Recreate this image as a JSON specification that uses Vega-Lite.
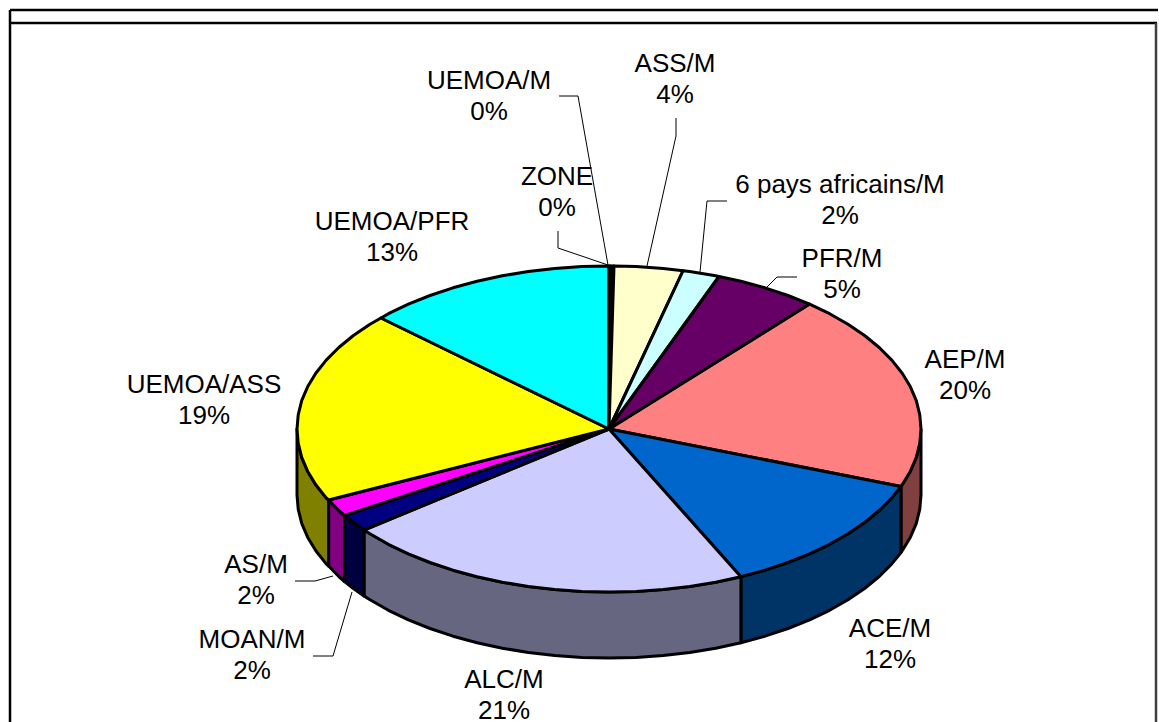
{"$schema":"https://vega.github.io/schema/vega-lite/v6.json","width":1159,"height":722,"padding":0,"autosize":"none","background":"white","config":{"view":{"stroke":null}},
"datasets":{
"faces":[
{"part":"AEP/M side","i":0,"x":921,"y":429},{"part":"AEP/M side","i":1,"x":919.8,"y":443.2},{"part":"AEP/M side","i":2,"x":916.3,"y":457.3},{"part":"AEP/M side","i":3,"x":910.4,"y":471.2},{"part":"AEP/M side","i":4,"x":902.2,"y":484.7},{"part":"AEP/M side","i":5,"x":901,"y":486.5},{"part":"AEP/M side","i":6,"x":901,"y":552.5},{"part":"AEP/M side","i":7,"x":902.2,"y":550.7},{"part":"AEP/M side","i":8,"x":910.4,"y":537.2},{"part":"AEP/M side","i":9,"x":916.3,"y":523.3},{"part":"AEP/M side","i":10,"x":919.8,"y":509.2},{"part":"AEP/M side","i":11,"x":921,"y":495},{"part":"AEP/M side","i":12,"x":921,"y":429},
{"part":"ACE/M side","i":0,"x":901,"y":486.5},{"part":"ACE/M side","i":1,"x":891.8,"y":497.9},{"part":"ACE/M side","i":2,"x":879.2,"y":510.5},{"part":"ACE/M side","i":3,"x":864.6,"y":522.5},{"part":"ACE/M side","i":4,"x":848,"y":533.8},{"part":"ACE/M side","i":5,"x":829.6,"y":544.3},{"part":"ACE/M side","i":6,"x":809.6,"y":553.9},{"part":"ACE/M side","i":7,"x":788,"y":562.5},{"part":"ACE/M side","i":8,"x":765,"y":570.2},{"part":"ACE/M side","i":9,"x":740.9,"y":576.7},{"part":"ACE/M side","i":10,"x":740.9,"y":642.7},{"part":"ACE/M side","i":11,"x":765,"y":636.2},{"part":"ACE/M side","i":12,"x":788,"y":628.5},{"part":"ACE/M side","i":13,"x":809.6,"y":619.9},{"part":"ACE/M side","i":14,"x":829.6,"y":610.3},{"part":"ACE/M side","i":15,"x":848,"y":599.8},{"part":"ACE/M side","i":16,"x":864.6,"y":588.5},{"part":"ACE/M side","i":17,"x":879.2,"y":576.5},{"part":"ACE/M side","i":18,"x":891.8,"y":563.9},{"part":"ACE/M side","i":19,"x":901,"y":552.5},{"part":"ACE/M side","i":20,"x":901,"y":486.5},
{"part":"ALC/M side","i":0,"x":740.9,"y":576.7},{"part":"ALC/M side","i":1,"x":715.7,"y":582.2},{"part":"ALC/M side","i":2,"x":689.7,"y":586.4},{"part":"ALC/M side","i":3,"x":663.2,"y":589.5},{"part":"ALC/M side","i":4,"x":636.2,"y":591.4},{"part":"ALC/M side","i":5,"x":609,"y":592},{"part":"ALC/M side","i":6,"x":581.8,"y":591.4},{"part":"ALC/M side","i":7,"x":554.8,"y":589.5},{"part":"ALC/M side","i":8,"x":528.3,"y":586.4},{"part":"ALC/M side","i":9,"x":502.3,"y":582.2},{"part":"ALC/M side","i":10,"x":477.1,"y":576.7},{"part":"ALC/M side","i":11,"x":453,"y":570.2},{"part":"ALC/M side","i":12,"x":430,"y":562.5},{"part":"ALC/M side","i":13,"x":408.4,"y":553.9},{"part":"ALC/M side","i":14,"x":388.4,"y":544.3},{"part":"ALC/M side","i":15,"x":370,"y":533.8},{"part":"ALC/M side","i":16,"x":364,"y":530},{"part":"ALC/M side","i":17,"x":364,"y":596},{"part":"ALC/M side","i":18,"x":370,"y":599.8},{"part":"ALC/M side","i":19,"x":388.4,"y":610.3},{"part":"ALC/M side","i":20,"x":408.4,"y":619.9},{"part":"ALC/M side","i":21,"x":430,"y":628.5},{"part":"ALC/M side","i":22,"x":453,"y":636.2},{"part":"ALC/M side","i":23,"x":477.1,"y":642.7},{"part":"ALC/M side","i":24,"x":502.3,"y":648.2},{"part":"ALC/M side","i":25,"x":528.3,"y":652.4},{"part":"ALC/M side","i":26,"x":554.8,"y":655.5},{"part":"ALC/M side","i":27,"x":581.8,"y":657.4},{"part":"ALC/M side","i":28,"x":609,"y":658},{"part":"ALC/M side","i":29,"x":636.2,"y":657.4},{"part":"ALC/M side","i":30,"x":663.2,"y":655.5},{"part":"ALC/M side","i":31,"x":689.7,"y":652.4},{"part":"ALC/M side","i":32,"x":715.7,"y":648.2},{"part":"ALC/M side","i":33,"x":740.9,"y":642.7},{"part":"ALC/M side","i":34,"x":740.9,"y":576.7},
{"part":"MOAN/M side","i":0,"x":364,"y":530},{"part":"MOAN/M side","i":1,"x":353.4,"y":522.5},{"part":"MOAN/M side","i":2,"x":344.5,"y":515.5},{"part":"MOAN/M side","i":3,"x":344.5,"y":581.5},{"part":"MOAN/M side","i":4,"x":353.4,"y":588.5},{"part":"MOAN/M side","i":5,"x":364,"y":596},{"part":"MOAN/M side","i":6,"x":364,"y":530},
{"part":"AS/M side","i":0,"x":344.5,"y":515.5},{"part":"AS/M side","i":1,"x":338.8,"y":510.5},{"part":"AS/M side","i":2,"x":328.6,"y":500},{"part":"AS/M side","i":3,"x":328.6,"y":566},{"part":"AS/M side","i":4,"x":338.8,"y":576.5},{"part":"AS/M side","i":5,"x":344.5,"y":581.5},{"part":"AS/M side","i":6,"x":344.5,"y":515.5},
{"part":"UEMOA/ASS side","i":0,"x":328.6,"y":500},{"part":"UEMOA/ASS side","i":1,"x":326.2,"y":497.9},{"part":"UEMOA/ASS side","i":2,"x":315.8,"y":484.7},{"part":"UEMOA/ASS side","i":3,"x":307.6,"y":471.2},{"part":"UEMOA/ASS side","i":4,"x":301.7,"y":457.3},{"part":"UEMOA/ASS side","i":5,"x":298.2,"y":443.2},{"part":"UEMOA/ASS side","i":6,"x":297,"y":429},{"part":"UEMOA/ASS side","i":7,"x":297,"y":495},{"part":"UEMOA/ASS side","i":8,"x":298.2,"y":509.2},{"part":"UEMOA/ASS side","i":9,"x":301.7,"y":523.3},{"part":"UEMOA/ASS side","i":10,"x":307.6,"y":537.2},{"part":"UEMOA/ASS side","i":11,"x":315.8,"y":550.7},{"part":"UEMOA/ASS side","i":12,"x":326.2,"y":563.9},{"part":"UEMOA/ASS side","i":13,"x":328.6,"y":566},{"part":"UEMOA/ASS side","i":14,"x":328.6,"y":500},
{"part":"AEP/M top","i":0,"x":609,"y":429},{"part":"AEP/M top","i":1,"x":809.6,"y":304.1},{"part":"AEP/M top","i":2,"x":829.6,"y":313.7},{"part":"AEP/M top","i":3,"x":848,"y":324.2},{"part":"AEP/M top","i":4,"x":864.6,"y":335.5},{"part":"AEP/M top","i":5,"x":879.2,"y":347.5},{"part":"AEP/M top","i":6,"x":891.8,"y":360.1},{"part":"AEP/M top","i":7,"x":902.2,"y":373.3},{"part":"AEP/M top","i":8,"x":910.4,"y":386.8},{"part":"AEP/M top","i":9,"x":916.3,"y":400.7},{"part":"AEP/M top","i":10,"x":919.8,"y":414.8},{"part":"AEP/M top","i":11,"x":921,"y":429},{"part":"AEP/M top","i":12,"x":919.8,"y":443.2},{"part":"AEP/M top","i":13,"x":916.3,"y":457.3},{"part":"AEP/M top","i":14,"x":910.4,"y":471.2},{"part":"AEP/M top","i":15,"x":902.2,"y":484.7},{"part":"AEP/M top","i":16,"x":901,"y":486.5},{"part":"AEP/M top","i":17,"x":609,"y":429},
{"part":"ACE/M top","i":0,"x":609,"y":429},{"part":"ACE/M top","i":1,"x":901,"y":486.5},{"part":"ACE/M top","i":2,"x":891.8,"y":497.9},{"part":"ACE/M top","i":3,"x":879.2,"y":510.5},{"part":"ACE/M top","i":4,"x":864.6,"y":522.5},{"part":"ACE/M top","i":5,"x":848,"y":533.8},{"part":"ACE/M top","i":6,"x":829.6,"y":544.3},{"part":"ACE/M top","i":7,"x":809.6,"y":553.9},{"part":"ACE/M top","i":8,"x":788,"y":562.5},{"part":"ACE/M top","i":9,"x":765,"y":570.2},{"part":"ACE/M top","i":10,"x":740.9,"y":576.7},{"part":"ACE/M top","i":11,"x":609,"y":429},
{"part":"ALC/M top","i":0,"x":609,"y":429},{"part":"ALC/M top","i":1,"x":740.9,"y":576.7},{"part":"ALC/M top","i":2,"x":715.7,"y":582.2},{"part":"ALC/M top","i":3,"x":689.7,"y":586.4},{"part":"ALC/M top","i":4,"x":663.2,"y":589.5},{"part":"ALC/M top","i":5,"x":636.2,"y":591.4},{"part":"ALC/M top","i":6,"x":609,"y":592},{"part":"ALC/M top","i":7,"x":581.8,"y":591.4},{"part":"ALC/M top","i":8,"x":554.8,"y":589.5},{"part":"ALC/M top","i":9,"x":528.3,"y":586.4},{"part":"ALC/M top","i":10,"x":502.3,"y":582.2},{"part":"ALC/M top","i":11,"x":477.1,"y":576.7},{"part":"ALC/M top","i":12,"x":453,"y":570.2},{"part":"ALC/M top","i":13,"x":430,"y":562.5},{"part":"ALC/M top","i":14,"x":408.4,"y":553.9},{"part":"ALC/M top","i":15,"x":388.4,"y":544.3},{"part":"ALC/M top","i":16,"x":370,"y":533.8},{"part":"ALC/M top","i":17,"x":364,"y":530},{"part":"ALC/M top","i":18,"x":609,"y":429},
{"part":"MOAN/M top","i":0,"x":609,"y":429},{"part":"MOAN/M top","i":1,"x":364,"y":530},{"part":"MOAN/M top","i":2,"x":353.4,"y":522.5},{"part":"MOAN/M top","i":3,"x":344.5,"y":515.5},{"part":"MOAN/M top","i":4,"x":609,"y":429},
{"part":"AS/M top","i":0,"x":609,"y":429},{"part":"AS/M top","i":1,"x":344.5,"y":515.5},{"part":"AS/M top","i":2,"x":338.8,"y":510.5},{"part":"AS/M top","i":3,"x":328.6,"y":500},{"part":"AS/M top","i":4,"x":609,"y":429},
{"part":"UEMOA/ASS top","i":0,"x":609,"y":429},{"part":"UEMOA/ASS top","i":1,"x":328.6,"y":500},{"part":"UEMOA/ASS top","i":2,"x":326.2,"y":497.9},{"part":"UEMOA/ASS top","i":3,"x":315.8,"y":484.7},{"part":"UEMOA/ASS top","i":4,"x":307.6,"y":471.2},{"part":"UEMOA/ASS top","i":5,"x":301.7,"y":457.3},{"part":"UEMOA/ASS top","i":6,"x":298.2,"y":443.2},{"part":"UEMOA/ASS top","i":7,"x":297,"y":429},{"part":"UEMOA/ASS top","i":8,"x":298.2,"y":414.8},{"part":"UEMOA/ASS top","i":9,"x":301.7,"y":400.7},{"part":"UEMOA/ASS top","i":10,"x":307.6,"y":386.8},{"part":"UEMOA/ASS top","i":11,"x":315.8,"y":373.3},{"part":"UEMOA/ASS top","i":12,"x":326.2,"y":360.1},{"part":"UEMOA/ASS top","i":13,"x":338.8,"y":347.5},{"part":"UEMOA/ASS top","i":14,"x":353.4,"y":335.5},{"part":"UEMOA/ASS top","i":15,"x":370,"y":324.2},{"part":"UEMOA/ASS top","i":16,"x":381,"y":318},{"part":"UEMOA/ASS top","i":17,"x":609,"y":429},
{"part":"UEMOA/PFR top","i":0,"x":609,"y":429},{"part":"UEMOA/PFR top","i":1,"x":381,"y":318},{"part":"UEMOA/PFR top","i":2,"x":388.4,"y":313.7},{"part":"UEMOA/PFR top","i":3,"x":408.4,"y":304.1},{"part":"UEMOA/PFR top","i":4,"x":430,"y":295.5},{"part":"UEMOA/PFR top","i":5,"x":453,"y":287.8},{"part":"UEMOA/PFR top","i":6,"x":477.1,"y":281.3},{"part":"UEMOA/PFR top","i":7,"x":502.3,"y":275.8},{"part":"UEMOA/PFR top","i":8,"x":528.3,"y":271.6},{"part":"UEMOA/PFR top","i":9,"x":554.8,"y":268.5},{"part":"UEMOA/PFR top","i":10,"x":581.8,"y":266.6},{"part":"UEMOA/PFR top","i":11,"x":609,"y":266},{"part":"UEMOA/PFR top","i":12,"x":609,"y":429},
{"part":"ZONE top","i":0,"x":609,"y":429},{"part":"ZONE top","i":1,"x":609,"y":266},{"part":"ZONE top","i":2,"x":611,"y":266},{"part":"ZONE top","i":3,"x":609,"y":429},
{"part":"UEMOA/M top","i":0,"x":609,"y":429},{"part":"UEMOA/M top","i":1,"x":611,"y":266},{"part":"UEMOA/M top","i":2,"x":614,"y":266},{"part":"UEMOA/M top","i":3,"x":609,"y":429},
{"part":"ASS/M top","i":0,"x":609,"y":429},{"part":"ASS/M top","i":1,"x":614,"y":266},{"part":"ASS/M top","i":2,"x":636.2,"y":266.6},{"part":"ASS/M top","i":3,"x":663.2,"y":268.5},{"part":"ASS/M top","i":4,"x":683,"y":270.8},{"part":"ASS/M top","i":5,"x":609,"y":429},
{"part":"6 pays africains/M top","i":0,"x":609,"y":429},{"part":"6 pays africains/M top","i":1,"x":683,"y":270.8},{"part":"6 pays africains/M top","i":2,"x":689.7,"y":271.6},{"part":"6 pays africains/M top","i":3,"x":715.7,"y":275.8},{"part":"6 pays africains/M top","i":4,"x":719,"y":276.5},{"part":"6 pays africains/M top","i":5,"x":609,"y":429},
{"part":"PFR/M top","i":0,"x":609,"y":429},{"part":"PFR/M top","i":1,"x":719,"y":276.5},{"part":"PFR/M top","i":2,"x":740.9,"y":281.3},{"part":"PFR/M top","i":3,"x":765,"y":287.8},{"part":"PFR/M top","i":4,"x":788,"y":295.5},{"part":"PFR/M top","i":5,"x":809.6,"y":304.1},{"part":"PFR/M top","i":6,"x":609,"y":429}
],
"leaders":[
{"name":"ZONE","i":0,"x":558,"y":231},{"name":"ZONE","i":1,"x":558,"y":248},{"name":"ZONE","i":2,"x":608,"y":265},
{"name":"UEMOA/M","i":0,"x":559,"y":96},{"name":"UEMOA/M","i":1,"x":578,"y":96},{"name":"UEMOA/M","i":2,"x":608,"y":265},
{"name":"ASS/M","i":0,"x":676,"y":118},{"name":"ASS/M","i":1,"x":676,"y":136},{"name":"ASS/M","i":2,"x":647,"y":266},
{"name":"6 pays","i":0,"x":727,"y":201},{"name":"6 pays","i":1,"x":707,"y":201},{"name":"6 pays","i":2,"x":700,"y":272},
{"name":"PFR/M","i":0,"x":797,"y":277},{"name":"PFR/M","i":1,"x":777,"y":277},{"name":"PFR/M","i":2,"x":767,"y":287},
{"name":"AS/M","i":0,"x":295,"y":581},{"name":"AS/M","i":1,"x":315,"y":581},{"name":"AS/M","i":2,"x":333,"y":576},
{"name":"MOAN/M","i":0,"x":313,"y":656},{"name":"MOAN/M","i":1,"x":333,"y":656},{"name":"MOAN/M","i":2,"x":352,"y":592}
],
"frame":[
{"edge":"top","i":0,"x":10,"y":10},{"edge":"top","i":1,"x":1158,"y":10},
{"edge":"left","i":0,"x":10,"y":10},{"edge":"left","i":1,"x":10,"y":722},
{"edge":"inner","i":0,"x":10,"y":23},{"edge":"inner","i":1,"x":1157,"y":23},
{"edge":"right","i":0,"x":1156,"y":23},{"edge":"right","i":1,"x":1156,"y":722}
],
"labels":[
{"label":"UEMOA/M\n0%","x":489,"y":81},
{"label":"ASS/M\n4%","x":675,"y":64},
{"label":"ZONE\n0%","x":557,"y":177},
{"label":"6 pays africains/M\n2%","x":840,"y":185},
{"label":"UEMOA/PFR\n13%","x":392,"y":222},
{"label":"PFR/M\n5%","x":842,"y":259},
{"label":"AEP/M\n20%","x":965,"y":360},
{"label":"UEMOA/ASS\n19%","x":204,"y":385},
{"label":"AS/M\n2%","x":256,"y":565},
{"label":"ACE/M\n12%","x":890,"y":629},
{"label":"MOAN/M\n2%","x":252,"y":640},
{"label":"ALC/M\n21%","x":504,"y":680}
]},
"layer":[
{"data":{"name":"frame"},"mark":{"type":"line"},"encoding":{
"x":{"field":"x","type":"quantitative","scale":{"domain":[0,1159],"nice":false,"zero":false},"axis":null},
"y":{"field":"y","type":"quantitative","scale":{"domain":[722,0],"nice":false,"zero":false},"axis":null},
"order":{"field":"i"},
"color":{"field":"edge","type":"nominal","legend":null,"scale":{"domain":["top","left","inner","right"],"range":["#000000","#000000","#000000","#404040"]}},
"strokeWidth":{"field":"edge","type":"nominal","legend":null,"scale":{"domain":["top","left","inner","right"],"range":[2.5,2.5,1,2]}}}},
{"data":{"name":"leaders"},"mark":{"type":"line","color":"#000000","strokeWidth":1},"encoding":{
"x":{"field":"x","type":"quantitative","axis":null},
"y":{"field":"y","type":"quantitative","axis":null},
"detail":{"field":"name"},
"order":{"field":"i"}}},
{"data":{"name":"faces"},"mark":{"type":"line","filled":true,"stroke":"#000000","strokeWidth":3,"strokeJoin":"round"},"encoding":{
"x":{"field":"x","type":"quantitative","axis":null},
"y":{"field":"y","type":"quantitative","axis":null},
"order":{"field":"i"},
"fill":{"field":"part","type":"nominal","legend":null,"sort":null,"scale":{"domain":["AEP/M side","ACE/M side","ALC/M side","MOAN/M side","AS/M side","UEMOA/ASS side","AEP/M top","ACE/M top","ALC/M top","MOAN/M top","AS/M top","UEMOA/ASS top","UEMOA/PFR top","ZONE top","UEMOA/M top","ASS/M top","6 pays africains/M top","PFR/M top"],"range":["#804040","#003366","#666680","#000040","#800080","#808000","#FF8080","#0066CC","#CCCCFF","#000080","#FF00FF","#FFFF00","#00FFFF","#800000","#800080","#FFFFCC","#CCFFFF","#660066"]}}}},
{"data":{"name":"labels"},"mark":{"type":"text","font":"Liberation Sans","fontSize":26,"lineBreak":"\n","lineHeight":31,"align":"center","baseline":"middle","color":"#000000"},"encoding":{
"x":{"field":"x","type":"quantitative","axis":null},
"y":{"field":"y","type":"quantitative","axis":null},
"text":{"field":"label"}}}
]}
